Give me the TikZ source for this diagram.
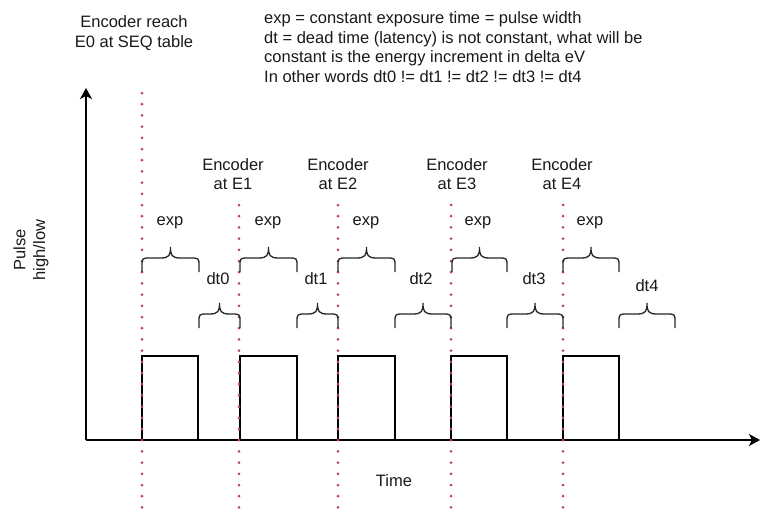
\documentclass[tikz,border=0pt]{standalone}
\usepackage{fontspec}
\setmainfont{Liberation Sans}
\usetikzlibrary{arrows.meta}
\definecolor{dotred}{RGB}{190,70,70}
\definecolor{txt}{RGB}{25,25,25}
\newcommand{\mybrace}[3]{% x1, x2, tip y
  \pgfmathsetmacro{\xm}{(#1+#2)/2}%
  \pgfmathsetmacro{\ym}{#3+11}%
  \pgfmathsetmacro{\yb}{#3+25}%
  \draw[bracestyle] (#1,\yb) -- (#1,\ym+8) .. controls (#1,\ym) .. (#1+9,\ym)
    -- (\xm-10,\ym) .. controls (\xm-1,\ym) and (\xm,\ym-3) .. (\xm,#3)
    .. controls (\xm,\ym-3) and (\xm+1,\ym) .. (\xm+10,\ym) -- (#2-9,\ym)
    .. controls (#2,\ym) .. (#2,\ym+8) -- (#2,\yb);}
\begin{document}
\begin{tikzpicture}[x=1pt,y=-1pt,
  lbl/.style={font=\fontsize{16.5}{19.8}\selectfont, text=txt, inner sep=0pt, align=center},
  axis/.style={line width=1.5pt, -{Stealth[length=11pt,width=12pt,inset=3pt]}},
  pulse/.style={line width=1.5pt},
  bracestyle/.style={line width=1.3pt, black!85},
  reddots/.style={dotred, line width=3pt, line cap=round, dash pattern=on 0pt off 11.2pt}]
\useasboundingbox (0,0) rectangle (761,509);
% pulses
\foreach \a/\b in {142/198, 240/297, 338/395, 451/507, 563/619}
  {\draw[pulse] (\a,440) -- (\a,356) -- (\b,356) -- (\b,440);}
% axes
\coordinate (origin) at (86,440);
\coordinate (ytip) at (86,88);
\coordinate (xtip) at (760,440);
\draw[axis] (origin) -- (ytip);
\draw[axis] (origin) -- (xtip);
% red dotted lines
\draw[reddots] (142,93) -- (142,509);
\foreach \x in {239, 338, 451, 563}
  {\draw[reddots] (\x,205) -- (\x,509);}
% braces
\foreach \a/\b in {142/199, 240/297, 338/395, 452/507, 563/619}
  {\mybrace{\a}{\b}{247}}
\foreach \a/\b in {199/240, 297/338, 395/451, 507/563, 619/675}
  {\mybrace{\a}{\b}{303}}
% texts
\node[lbl] (e0) at (134,33) {Encoder reach\\E0 at SEQ table};
\node[lbl, align=left, anchor=west] (note) at (264,47) {exp = constant exposure time = pulse width\\dt = dead time (latency) is not constant, what will be\\constant is the energy increment in delta eV\\In other words dt0 != dt1 != dt2 != dt3 != dt4};
\node[lbl] (e1) at (233,174) {Encoder\\at E1};
\node[lbl] (e2) at (338,174) {Encoder\\at E2};
\node[lbl] (e3) at (457,174) {Encoder\\at E3};
\node[lbl] (e4) at (562,174) {Encoder\\at E4};
\node[lbl] (exp0) at (170,223) {exp};
\node[lbl] (exp1) at (268,223) {exp};
\node[lbl] (exp2) at (366,223) {exp};
\node[lbl] (exp3) at (478,223) {exp};
\node[lbl] (exp4) at (590,223) {exp};
\node[lbl] (dt0) at (218,279) {dt0};
\node[lbl] (dt1) at (316,279) {dt1};
\node[lbl] (dt2) at (421,279) {dt2};
\node[lbl] (dt3) at (534,279) {dt3};
\node[lbl] (dt4) at (647,286) {dt4};
\node[lbl] (time) at (394,481) {Time};
\node[lbl, rotate=90] (ylab) at (31,250) {Pulse\\high/low};
\end{tikzpicture}
\end{document}
